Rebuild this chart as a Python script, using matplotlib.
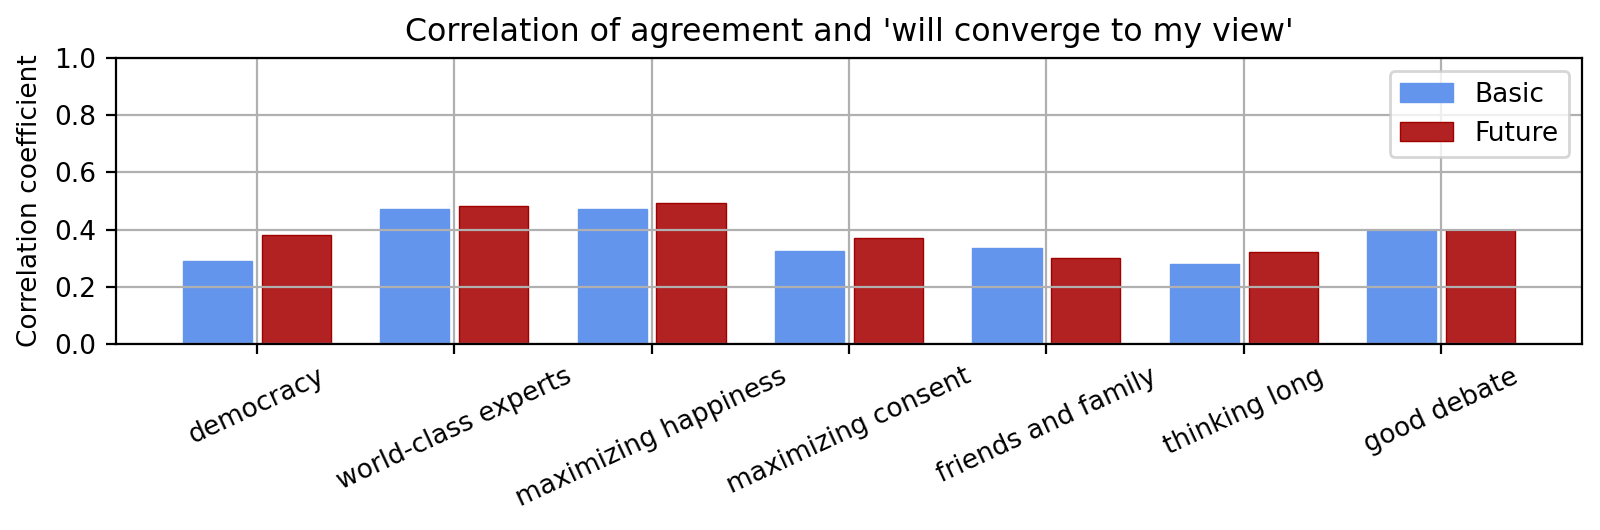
import matplotlib
matplotlib.use('Agg')
import matplotlib.pyplot as plt
import numpy as np

categories = ['democracy', 'world-class experts', 'maximizing happiness',
              'maximizing consent', 'friends and family', 'thinking long',
              'good debate']
basic = [0.289, 0.473, 0.473, 0.326, 0.335, 0.279, 0.395]
future = [0.381, 0.481, 0.494, 0.370, 0.301, 0.321, 0.399]

plt.rcParams['font.size'] = 9.5

x = np.arange(len(categories))

fig, ax = plt.subplots(figsize=(8, 2.65), dpi=200)
fig.subplots_adjust(left=0.0725, right=0.98875, top=0.8906, bottom=0.3509)

ax.bar(x - 0.2, basic, width=0.35, color='cornflowerblue',
       edgecolor='cornflowerblue', linewidth=0.5, label='Basic')
ax.bar(x + 0.2, future, width=0.35, color='firebrick',
       edgecolor='#a00000', linewidth=0.5, label='Future')

ax.set_ylim(0, 1)
ax.set_xticks(x)
ax.set_xticklabels(categories, rotation=25)
ax.set_ylabel('Correlation coefficient')
ax.set_title("Correlation of agreement and 'will converge to my view'", fontsize=11.4)
ax.grid(True)
ax.legend(loc='upper right')

fig.savefig('out.png', dpi=200)
